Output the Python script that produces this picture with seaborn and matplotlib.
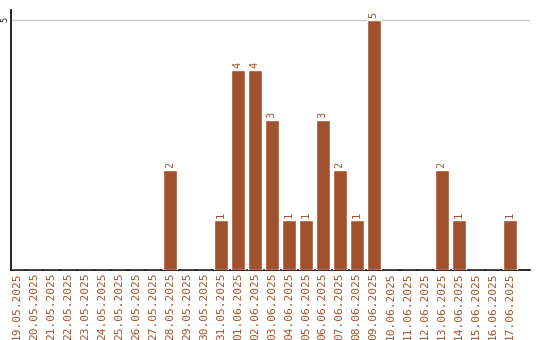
import matplotlib
matplotlib.use("Agg")
import matplotlib.pyplot as plt
import seaborn as sns
import pandas as pd

dates = ["19.05.2025", "20.05.2025", "21.05.2025", "22.05.2025", "23.05.2025",
         "24.05.2025", "25.05.2025", "26.05.2025", "27.05.2025", "28.05.2025",
         "29.05.2025", "30.05.2025", "31.05.2025", "01.06.2025", "02.06.2025",
         "03.06.2025", "04.06.2025", "05.06.2025", "06.06.2025", "07.06.2025",
         "08.06.2025", "09.06.2025", "10.06.2025", "11.06.2025", "12.06.2025",
         "13.06.2025", "14.06.2025", "15.06.2025", "16.06.2025", "17.06.2025"]
counts = [0, 0, 0, 0, 0, 0, 0, 0, 0, 2,
          0, 0, 1, 4, 4, 3, 1, 1, 3, 2,
          1, 5, 0, 0, 0, 2, 1, 0, 0, 1]
yticks = [5]

color = "#A0522D"
sns.set_style("white")
plt.rcParams['font.family'] = ['DejaVu Sans Mono', 'DejaVu Sans']

df = pd.DataFrame({"date": dates, "count": counts})
fig = plt.figure(figsize=(5.4, 3.4), dpi=100)
ax = fig.add_axes([11/540, 1-270/340, (530-11)/540, 260/340])
sns.barplot(data=df, x="date", y="count", color=color, saturation=1,
            width=0.82, ax=ax, zorder=3)
ax.set_xlim(-0.35, 30.2)
ax.set_ylim(0, 5.2)
ax.set_yticks(yticks)
ax.set_yticklabels([str(t) for t in yticks], rotation=90, va="center", fontsize=6)
ax.yaxis.grid(True, color="#cccccc", linewidth=1, zorder=0)
ax.tick_params(axis="x", length=0, pad=2)
ax.tick_params(axis="y", length=0, pad=1)
ax.set_xticks(range(len(dates)))
ax.set_xticklabels(dates, rotation=90, color=color, fontsize=8)
ax.set_xlabel("")
ax.set_ylabel("")
for s in ["top", "right"]:
    ax.spines[s].set_visible(False)
for s in ["left", "bottom"]:
    ax.spines[s].set_color("black")
    ax.spines[s].set_linewidth(1.2)
for i, v in enumerate(counts):
    if v > 0:
        ax.text(i, v + 0.04, str(v), rotation=90, ha="center", va="bottom",
                fontsize=7.5, color=color)
fig.savefig("out.png", dpi=100)
